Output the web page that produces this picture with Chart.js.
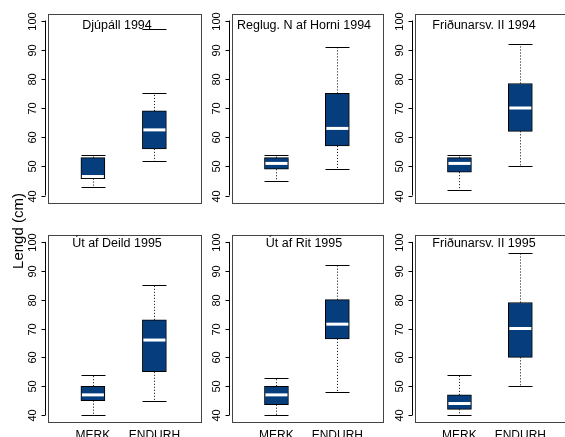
<!DOCTYPE html>
<html>
<head>
<meta charset="utf-8">
<script src="https://cdn.jsdelivr.net/npm/chart.js@4.4.1/dist/chart.umd.min.js"></script>
<style>
  body { margin: 0; background: #fff; }
  #wrap { position: relative; width: 565px; height: 437px; overflow: hidden; }
  #wrap canvas { position: absolute; left: 0; top: 0; }
</style>
</head>
<body>
<div id="wrap"></div>
<script>
// data
var titles = ["Djúpáll 1994", "Reglug. N af Horni 1994", "Friðunarsv. II 1994",
              "Út af Deild 1995", "Út af Rit 1995", "Friðunarsv. II 1995"];
var groups = ["MERK", "ENDURH"];
var lowWhisker  = [[43, 52], [45, 49], [42, 50], [40, 45], [40, 48], [40, 50]];
var q1          = [[45.8, 56], [49, 57], [48, 62], [45, 55], [43.6, 66.4], [42, 60]];
var medians     = [[46.5, 62.5], [51, 63], [51, 70], [47, 66], [47, 71.5], [44, 70]];
var q3          = [[53, 69], [53, 75], [53, 78.4], [50, 73], [50, 80], [47, 79]];
var highWhisker = [[54, 75], [54, 91], [54, 92], [54, 85], [53, 92], [54, 96]];
var extraMarks  = [[null, 97], [null, null], [null, null], [null, null], [null, null], [null, null]];
var yTicks = [40, 50, 60, 70, 80, 90, 100];

// layout (pixels), kept apart from the data
var colEdges = [[48, 200.5], [232, 383], [415, 566]];
var rowEdges = [[13.5, 202.5], [235, 422]];
var titleBase = [15, 12];
var titleShift = [69, 72, 69];
var boxW = 24;
var boxFill = "#063e7d";
var CW = 570, CH = 440;

function line(c, x1, y1, x2, y2) {
  c.beginPath(); c.moveTo(x1, y1); c.lineTo(x2, y2); c.stroke();
}

var boxParts = {
  id: "boxParts",
  beforeDatasetsDraw: function(chart, args, opts) {
    var p = opts.panel, xs = chart.scales.x, ys = chart.scales.y, c = chart.ctx;
    c.save();
    c.strokeStyle = "#000";
    c.lineWidth = 1;
    for (var g = 0; g < groups.length; g++) {
      var cx = Math.round(xs.getPixelForValue(g + 1)) + 0.5;
      var hw = boxW / 2;
      var yHi = Math.round(ys.getPixelForValue(highWhisker[p][g])) + 0.5;
      var yLo = Math.round(ys.getPixelForValue(lowWhisker[p][g])) + 0.5;
      c.setLineDash([1, 2]);
      line(c, cx, ys.getPixelForValue(q3[p][g]), cx, yHi);
      line(c, cx, ys.getPixelForValue(q1[p][g]), cx, yLo);
      c.setLineDash([]);
      line(c, cx - hw, yHi, cx + hw, yHi);
      line(c, cx - hw, yLo, cx + hw, yLo);
      if (extraMarks[p][g] != null) {
        var ye = Math.round(ys.getPixelForValue(extraMarks[p][g])) + 0.5;
        line(c, cx - hw, ye, cx + hw, ye);
      }
    }
    c.restore();
  },
  afterDatasetsDraw: function(chart, args, opts) {
    var p = opts.panel, xs = chart.scales.x, ys = chart.scales.y, c = chart.ctx;
    var a = chart.chartArea;
    c.save();
    // medians
    c.strokeStyle = "#fff";
    c.lineWidth = 3;
    for (var g = 0; g < groups.length; g++) {
      var cx = xs.getPixelForValue(g + 1);
      var hw = boxW / 2 - 1;
      var ym = ys.getPixelForValue(medians[p][g]);
      line(c, cx - hw, ym, cx + hw, ym);
    }
    // frame
    c.strokeStyle = "#444";
    c.lineWidth = 1;
    c.strokeRect(Math.round(a.left) + 0.5, Math.round(a.top) + 0.5,
                 Math.round(a.right - a.left), Math.round(a.bottom - a.top));
    // y axis
    c.strokeStyle = "#000";
    var ax = Math.round(a.left) - 2.5;
    line(c, ax, ys.getPixelForValue(yTicks[0]), ax, ys.getPixelForValue(yTicks[yTicks.length - 1]));
    c.fillStyle = "#000";
    c.font = "11px 'Liberation Sans', Arial, sans-serif";
    c.textAlign = "center";
    c.textBaseline = "middle";
    yTicks.forEach(function(t) {
      var ty = Math.round(ys.getPixelForValue(t)) + 0.5;
      line(c, ax - 4, ty, ax, ty);
      c.save();
      c.translate(a.left - 15.5, ty);
      c.rotate(-Math.PI / 2);
      c.fillText(String(t), 0, 0);
      c.restore();
    });
    // panel title
    var row = p < 3 ? 0 : 1;
    c.font = "12.5px 'Liberation Sans', Arial, sans-serif";
    c.textBaseline = "alphabetic";
    c.fillText(titles[p], a.left + titleShift[p % 3], a.top + titleBase[row]);
    // group labels below the bottom row
    if (row === 1) {
      c.font = "12px 'Liberation Sans', Arial, sans-serif";
      c.textBaseline = "top";
      for (var k = 0; k < groups.length; k++) {
        c.fillText(groups[k], xs.getPixelForValue(k + 1), a.bottom + 8);
      }
    }
    // shared y title
    if (p === 0) {
      c.font = "15px 'Liberation Sans', Arial, sans-serif";
      c.textBaseline = "middle";
      c.save();
      c.translate(19, 231);
      c.rotate(-Math.PI / 2);
      c.fillText("Lengd (cm)", 0, 0);
      c.restore();
    }
    c.restore();
  }
};

var wrap = document.getElementById("wrap");
for (var p = 0; p < 6; p++) {
  var col = colEdges[p % 3], row = rowEdges[p < 3 ? 0 : 1];
  var cv = document.createElement("canvas");
  cv.width = CW; cv.height = CH;
  wrap.appendChild(cv);

  var sets = groups.map(function(name, g) {
    return {
      label: name,
      data: [{ x: g + 1, y: [q1[p][g], q3[p][g]] }],
      backgroundColor: boxFill,
      borderColor: "#000",
      borderWidth: 1,
      borderSkipped: false,
      barThickness: boxW,
      grouped: false
    };
  });

  new Chart(cv.getContext("2d"), {
    type: "bar",
    data: { datasets: sets },
    options: {
      responsive: false,
      animation: false,
      devicePixelRatio: 1,
      layout: { padding: { left: col[0], right: CW - col[1], top: row[0], bottom: CH - row[1] } },
      scales: {
        x: { type: "linear", min: 0.27, max: 2.75, offset: false, display: false },
        y: { type: "linear", min: 37.6, max: 102.4, display: false }
      },
      plugins: {
        legend: { display: false },
        tooltip: { enabled: false },
        boxParts: { panel: p }
      }
    },
    plugins: [boxParts]
  });
}
</script>
</body>
</html>
